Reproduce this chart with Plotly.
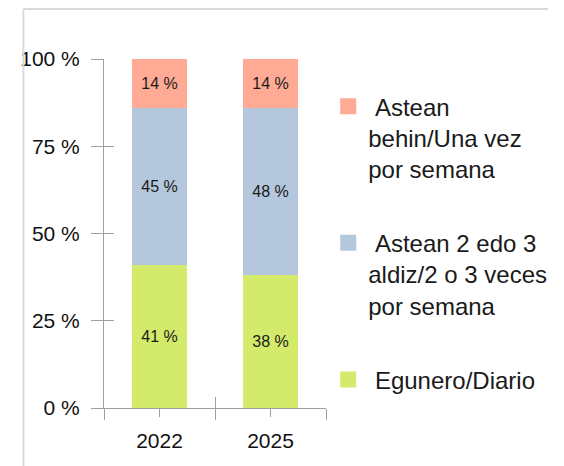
import plotly.graph_objects as go

# Data
years = ['2022', '2025']
diario = [41, 38]
veces_2_3 = [45, 48]
una_vez = [14, 14]

names = [
    '\u00a0Astean<br>behin/Una vez<br>por semana',
    '\u00a0Astean 2 edo 3<br>aldiz/2 o 3 veces<br>por semana',
    '\u00a0Egunero/Diario',
]
colors = ['#ffaa95', '#b4c7dc', '#d4ea6b']
y_ticks = [0, 25, 50, 75, 100]
y_ticktext = ['0 %', '25 %', '50 %', '75 %', '100 %']

axis_gray = '#a0a0a0'
font = 'Liberation Sans'

fig = go.Figure()

# stacked bars, bottom to top
series = [(diario, names[2], colors[2], 3, 'x2'),
          (veces_2_3, names[1], colors[1], 2, 'x3'),
          (una_vez, names[0], colors[0], 1, 'x2')]
for vals, name, color, rank, xa in series:
    fig.add_trace(go.Bar(
        x=years, y=vals, name=name,
        marker=dict(color=color, line=dict(width=0)),
        text=[f'{v} %' for v in vals],
        textposition='inside', insidetextanchor='middle',
        textangle=0, constraintext='none',
        textfont=dict(family=font, size=16, color='#1a1a1a'),
        showlegend=False, hoverinfo='skip',
    ))
    # legend entry with a bigger square swatch (also keeps the overlay tick axes alive)
    fig.add_trace(go.Scatter(
        x=[None], y=[None], mode='markers', name=name,
        legendgroup=f'g{rank}', legendrank=rank,
        xaxis=xa, yaxis='y2',
        marker=dict(symbol='square', size=16, color=color),
    ))

fig.update_layout(
    barmode='stack',
    bargap=0.5,
    width=556, height=458,
    margin=dict(l=88, r=234, t=51, b=58),
    paper_bgcolor='white', plot_bgcolor='white',
    font=dict(family=font, color='#111111'),
    xaxis=dict(
        type='category', showgrid=False, zeroline=False,
        showline=True, linecolor=axis_gray, linewidth=1,
        ticks='outside', tickson='boundaries', ticklen=11,
        tickcolor=axis_gray, tickwidth=1,
        tickfont=dict(size=21), ticklabelstandoff=14,
    ),
    xaxis2=dict(
        overlaying='x', range=[-0.5, 1.5], tickvals=[-0.5, 0.5, 1.5],
        ticks='inside', ticklen=11, tickcolor=axis_gray,
        showticklabels=False, showline=False, showgrid=False, zeroline=False,
    ),
    xaxis3=dict(
        overlaying='x', range=[-0.5, 1.5], tickvals=[0, 1],
        ticks='outside', ticklen=8, tickcolor=axis_gray,
        showticklabels=False, showline=False, showgrid=False, zeroline=False,
    ),
    yaxis=dict(
        range=[0, 100], tickvals=y_ticks, ticktext=y_ticktext,
        showgrid=False, zeroline=False,
        showline=True, linecolor=axis_gray, linewidth=1,
        ticks='outside', ticklen=12, tickcolor=axis_gray,
        tickfont=dict(size=21), ticklabelstandoff=7,
    ),
    yaxis2=dict(
        overlaying='y', range=[0, 100], tickvals=y_ticks,
        ticks='inside', ticklen=10, tickcolor=axis_gray,
        showticklabels=False, showline=False, showgrid=False, zeroline=False,
    ),
    legend=dict(
        x=1.01, y=0.928, xanchor='left', yanchor='top',
        traceorder='grouped', tracegroupgap=40,
        valign='top', font=dict(size=24, color='#1a1a1a'),
        bgcolor='rgba(0,0,0,0)',
    ),
    shapes=[
        dict(type='line', xref='paper', yref='paper',
             x0=-0.363, x1=-0.363, y0=-0.3, y1=1.1433,
             line=dict(color='#dadada', width=2)),
        dict(type='line', xref='paper', yref='paper',
             x0=-0.363, x1=2, y0=1.1433, y1=1.1433,
             line=dict(color='#dadada', width=2)),
    ],
)

fig.write_html('out.html')
